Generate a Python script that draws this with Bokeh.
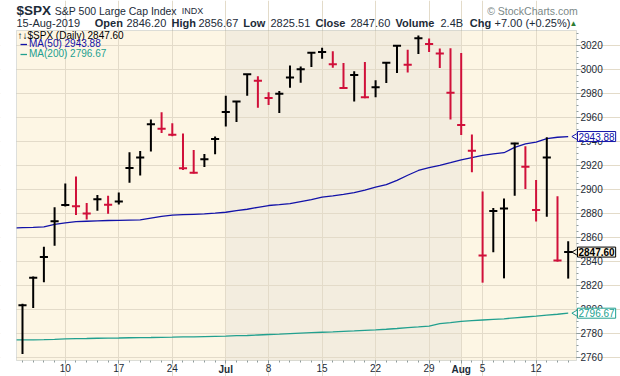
import math
import pandas as pd
from bokeh.plotting import figure
from bokeh.models import (Range1d, LinearAxis, FixedTicker, Grid, BoxAnnotation, Label,
                          Legend, LegendItem, ColumnDataSource)
from bokeh.embed import file_html
from bokeh.resources import INLINE

# ---------------- data ----------------
dates = ["2019-06-04", "2019-06-05", "2019-06-06", "2019-06-07", "2019-06-10", "2019-06-11",
         "2019-06-12", "2019-06-13", "2019-06-14", "2019-06-17", "2019-06-18", "2019-06-19",
         "2019-06-20", "2019-06-21", "2019-06-24", "2019-06-25", "2019-06-26", "2019-06-27",
         "2019-06-28", "2019-07-01", "2019-07-02", "2019-07-03", "2019-07-05", "2019-07-08",
         "2019-07-09", "2019-07-10", "2019-07-11", "2019-07-12", "2019-07-15", "2019-07-16",
         "2019-07-17", "2019-07-18", "2019-07-19", "2019-07-22", "2019-07-23", "2019-07-24",
         "2019-07-25", "2019-07-26", "2019-07-29", "2019-07-30", "2019-07-31", "2019-08-01",
         "2019-08-02", "2019-08-05", "2019-08-06", "2019-08-07", "2019-08-08", "2019-08-09",
         "2019-08-12", "2019-08-13", "2019-08-14", "2019-08-15"]
highs = [2804.49, 2827.28, 2852.10, 2884.97, 2904.77, 2910.61, 2888.57, 2895.24, 2894.45, 2897.27,
         2930.79, 2931.74, 2958.06, 2964.15, 2954.92, 2946.52, 2932.59, 2929.30, 2943.98,
         2977.93, 2973.21, 2995.84, 2994.03, 2980.76, 2981.90, 3002.98, 3002.33, 3013.92, 3017.80,
         3015.02, 3005.26, 2998.28, 3006.02, 2990.71, 3005.90, 3019.59, 3016.31, 3027.98, 3025.61,
         3017.19, 3017.40,
         3013.59, 2945.50, 2898.07, 2884.40, 2892.17, 2938.72, 2935.75, 2907.58, 2943.31, 2894.15,
         2856.67]
lows = [2762.64, 2800.92, 2822.45, 2852.87, 2885.51, 2878.53, 2874.68, 2881.99, 2879.62, 2887.30,
        2905.44, 2911.43, 2931.50, 2946.87, 2944.05, 2916.01, 2912.99, 2918.57, 2929.05,
        2952.22, 2955.92, 2977.96, 2967.97, 2970.09, 2963.44, 2984.62, 2988.80, 3001.87, 3008.77,
        3001.15, 2984.25, 2973.09, 2975.86, 2976.65, 2988.56, 2996.82, 2997.24, 3012.59, 3014.30,
        3000.94, 2958.08,
        2945.23, 2914.11, 2822.12, 2847.42, 2825.71, 2894.47, 2900.15, 2873.14, 2877.05, 2839.64,
        2825.51]
closes = [2803.27, 2826.15, 2843.49, 2873.34, 2886.73, 2885.72, 2879.84, 2891.64, 2886.98, 2889.67,
          2917.75, 2926.46, 2954.18, 2950.46, 2945.35, 2917.38, 2913.78, 2924.92, 2941.76,
          2964.33, 2973.01, 2995.82, 2990.41, 2975.95, 2979.63, 2993.07, 2999.91, 3013.77, 3014.30,
          3004.04, 2984.42, 2995.11, 2976.61, 2985.03, 3005.47, 3019.56, 3003.67, 3025.86, 3020.97,
          3013.18, 2980.38,
          2953.56, 2932.05, 2844.74, 2881.77, 2883.98, 2938.09, 2918.65, 2882.70, 2926.32, 2840.60,
          2847.60]
prev_close = 2744.45  # close of the session before the first bar

# moving averages start one session before the first bar (2019-06-03)
ma50 = [2867.5, 2867.9, 2868.2, 2868.6, 2870.6, 2872.0, 2872.9, 2873.3, 2873.6, 2873.9, 2874.1,
        2874.3, 2874.5, 2875.9, 2877.3, 2878.4, 2878.8, 2879.1, 2879.4, 2880.0, 2880.8, 2882.1,
        2883.3, 2884.9, 2886.4, 2887.1, 2888.0, 2889.7, 2891.4, 2893.4, 2894.5, 2895.7, 2897.1,
        2899.3, 2901.7, 2903.9, 2907.4, 2911.6, 2915.6, 2917.9, 2919.8, 2922.1, 2924.5, 2926.4,
        2928.1, 2929.4, 2930.4, 2934.9, 2937.7, 2939.3, 2942.2, 2943.3, 2943.88]
ma200 = [2774.4, 2774.5, 2774.5, 2774.6, 2774.8, 2775.2, 2775.5, 2775.6, 2775.8, 2775.9, 2776.0,
         2776.2, 2776.3, 2776.4, 2776.6, 2776.7, 2776.9, 2777.0, 2777.2, 2777.4, 2777.6, 2777.9,
         2778.1, 2778.5, 2778.9, 2779.2, 2779.6, 2780.0, 2780.4, 2780.8, 2781.1, 2781.5, 2781.9,
         2782.4, 2782.8, 2783.3, 2783.9, 2784.6, 2785.2, 2785.9, 2788.0, 2788.8, 2789.8, 2790.5,
         2791.0, 2791.5, 2792.0, 2792.8, 2793.5, 2794.2, 2795.0, 2795.8, 2796.67]

price_ticks = [2760, 2780, 2800, 2820, 2840, 2860, 2880, 2900, 2920, 2940, 2960, 2980, 3000, 3020]

symbol = "$SPX"
name = "S&P 500 Large Cap Index"
exchange = "INDX"
last_open, last_high, last_low, last_close = 2846.20, 2856.67, 2825.51, 2847.60
volume_text = "2.4B"
chg, chg_pct = 7.00, 0.25

# ---------------- styling / derived ----------------
W, H = 620, 376
FONT = "Liberation Sans"
TXT = "#1C2B38"
UP, DOWN = "#000000", "#D0103A"
BLUE, TEAL = "#1212A8", "#22A08F"
AXC = "#8E9B9B"
GRID = "#E3DBC9"

d = pd.to_datetime(dates)
n = len(dates)
xs = list(range(n))
ma_x = list(range(-1, n))

prevs = [prev_close] + closes[:-1]
colors = [UP if c >= pc else DOWN for c, pc in zip(closes, prevs)]

week_ticks, month_ticks, overrides, month_over = [], [], {}, {}
for i in range(1, n):
    if d[i].month != d[i - 1].month:
        month_ticks.append(i)
        month_over[i] = d[i].strftime("%b")
    elif d[i].weekday() < d[i - 1].weekday():
        week_ticks.append(i)
        overrides[i] = str(d[i].day)

src = ColumnDataSource(dict(x=xs, xl=[x - 0.38 for x in xs], xr=[x + 0.38 for x in xs],
                            high=highs, low=lows, close=closes, color=colors))

# chart area (in data units) and full canvas ranges
cx0, cx1 = -0.56, n - 0.224
cy0, cy1 = 2757.25, 3032.25
px_per_day = 560 / (cx1 - cx0)
px_per_pt = 330 / (cy1 - cy0)
x_start, x_end = cx0 - 16 / px_per_day, cx1 + 44 / px_per_day
y_start, y_end = cy0 - 16 / px_per_pt, cy1 + 30 / px_per_pt

p = figure(width=W, height=H, output_backend="svg", toolbar_location=None,
           x_range=Range1d(x_start, x_end), y_range=Range1d(y_start, y_end),
           x_axis_location=None, y_axis_location=None, min_border=0,
           background_fill_color="white", border_fill_color="white", outline_line_color=None)
p.grid.visible = False

# chart background, July shading
p.add_layout(BoxAnnotation(left=cx0, right=cx1, bottom=cy0, top=cy1, fill_color="#FDF6E4",
                           fill_alpha=1, line_alpha=0, level="image"))
p.add_layout(BoxAnnotation(left=month_ticks[0], right=month_ticks[1], bottom=cy0, top=cy1,
                           fill_color="#F3EDDF", fill_alpha=1, line_alpha=0, level="image"))
p.add_layout(Grid(dimension=0, ticker=FixedTicker(ticks=sorted(week_ticks + month_ticks)),
                  bounds=(cy0, cy1), grid_line_color=GRID, grid_line_width=1))
p.add_layout(Grid(dimension=1, ticker=FixedTicker(ticks=price_ticks), bounds=(cx0, cx1),
                  grid_line_color=GRID, grid_line_width=1))

r200 = p.line(ma_x, ma200, line_color=TEAL, line_width=1.3)
r50 = p.line(ma_x, ma50, line_color=BLUE, line_width=1.3)

p.segment(x0="x", y0="low", x1="x", y1="high", line_color="color", line_width=2, source=src)
p.segment(x0="xl", y0="close", x1="xr", y1="close", line_color="color", line_width=2, source=src)

# mask left of chart area (the MA lines start one session earlier) and the chart border
p.add_layout(BoxAnnotation(right=cx0, fill_color="white", fill_alpha=1, line_alpha=0))
p.add_layout(BoxAnnotation(left=cx0, right=cx1, bottom=cy0, top=cy1, fill_alpha=0,
                           line_color=AXC, line_width=1))

# axes fixed at the chart edges
yax = LinearAxis(fixed_location=cx1,
                 ticker=FixedTicker(ticks=price_ticks, minor_ticks=list(range(2760, 3031, 5))),
                 axis_line_color=None, major_tick_in=0, major_tick_out=4, minor_tick_in=0,
                 minor_tick_out=2, major_tick_line_color=AXC, minor_tick_line_color=AXC,
                 major_label_standoff=0, major_label_text_font=FONT,
                 major_label_text_font_size="10px", major_label_text_color=TXT)
p.add_layout(yax, "right")

xax = LinearAxis(fixed_location=cy0,
                 ticker=FixedTicker(ticks=week_ticks, minor_ticks=xs),
                 major_label_overrides=overrides, axis_line_color=None,
                 major_tick_in=0, major_tick_out=3, minor_tick_in=0, minor_tick_out=2,
                 major_tick_line_color=AXC, minor_tick_line_color=AXC,
                 major_label_standoff=0, major_label_text_font=FONT,
                 major_label_text_font_size="10px", major_label_text_color=TXT)
p.add_layout(xax, "below")
mxax = LinearAxis(fixed_location=cy0, ticker=FixedTicker(ticks=month_ticks, minor_ticks=[]),
                  major_label_overrides=month_over, axis_line_color=None,
                  major_tick_in=0, major_tick_out=3, major_tick_line_color=AXC,
                  major_label_standoff=0, major_label_text_font=FONT,
                  major_label_text_font_size="10px", major_label_text_font_style="bold",
                  major_label_text_color=TXT)
p.add_layout(mxax, "below")


def txt(x, y, text, size="11px", bold=False, color=TXT):
    """Text centred vertically (cap centre) at page pixel y."""
    p.add_layout(Label(x=x, y=H - y, x_units="screen", y_units="screen", text=text,
                       text_font=FONT, text_font_size=size,
                       text_font_style="bold" if bold else "normal",
                       text_color=color, text_baseline="middle"))


# in-chart legend
txt(17, 35, f"↑↓{symbol} (Daily) {last_close:.2f}", "10px", color="#000000")
for r, lab, col, yy in [(r50, f"MA(50) {ma50[-1]:.2f}", BLUE, H - 49),
                        (r200, f"MA(200) {ma200[-1]:.2f}", TEAL, H - 59.3)]:
    lg = Legend(items=[LegendItem(label=lab, renderers=[r])], location=(20, yy),
                label_text_font=FONT, label_text_font_size="10px", label_text_color=col,
                glyph_width=7, glyph_height=10, label_height=10, label_standoff=2,
                padding=0, margin=0, spacing=0, border_line_alpha=0, background_fill_alpha=0)
    p.add_layout(lg)

# price tags at right of the chart
tag_vals = [ma50[-1], last_close, ma200[-1]]
tag_cols = [BLUE, "#000000", TEAL]
tag_bgs = ["white", "#FDF6E4", "white"]
p.scatter(x=[cx1] * 3, y=tag_vals, marker="triangle", angle=math.pi / 2, size=8,
          fill_color=tag_bgs, line_color=tag_cols, line_width=1)
for val, col, bg, bold in zip(tag_vals, tag_cols, tag_bgs, [False, True, False]):
    p.add_layout(Label(x=cx1, y=val, x_offset=1, text=f"{val:.2f}",
                       text_baseline="middle", text_align="left", text_font=FONT,
                       text_font_size="10px", text_font_style="bold" if bold else "normal",
                       text_color=col, background_fill_color=bg, border_line_color=col,
                       padding=1))

# header
L1, L2 = 10, 22.7
txt(16, L1, symbol, "13.5px", True)
txt(54.3, L1, name, "10.5px")
txt(181.3, 10.7, exchange, "9px")
txt(486.7, 10.7, "© StockCharts.com", "10.5px", False, "#7B8888")
txt(16, L2, d[-1].strftime("%d-%b-%Y"))
txt(94.3, L2, "Open", bold=True)
txt(126, L2, f"{last_open:.2f}")
txt(171, L2, "High", bold=True)
txt(198, L2, f"{last_high:.2f}")
txt(242.7, L2, "Low", bold=True)
txt(270, L2, f"{last_low:.2f}")
txt(315, L2, "Close", bold=True)
txt(350, L2, f"{last_close:.2f}")
txt(395, L2, "Volume", bold=True)
txt(440, L2, volume_text)
txt(469.3, L2, "Chg", bold=True)
txt(494, L2, f"{chg:+.2f} ({chg_pct:+.2f}%)")
txt(569, 23, "▲", "8px", False, "#2E7D32")

open("out.html", "w").write(file_html(p, INLINE))
